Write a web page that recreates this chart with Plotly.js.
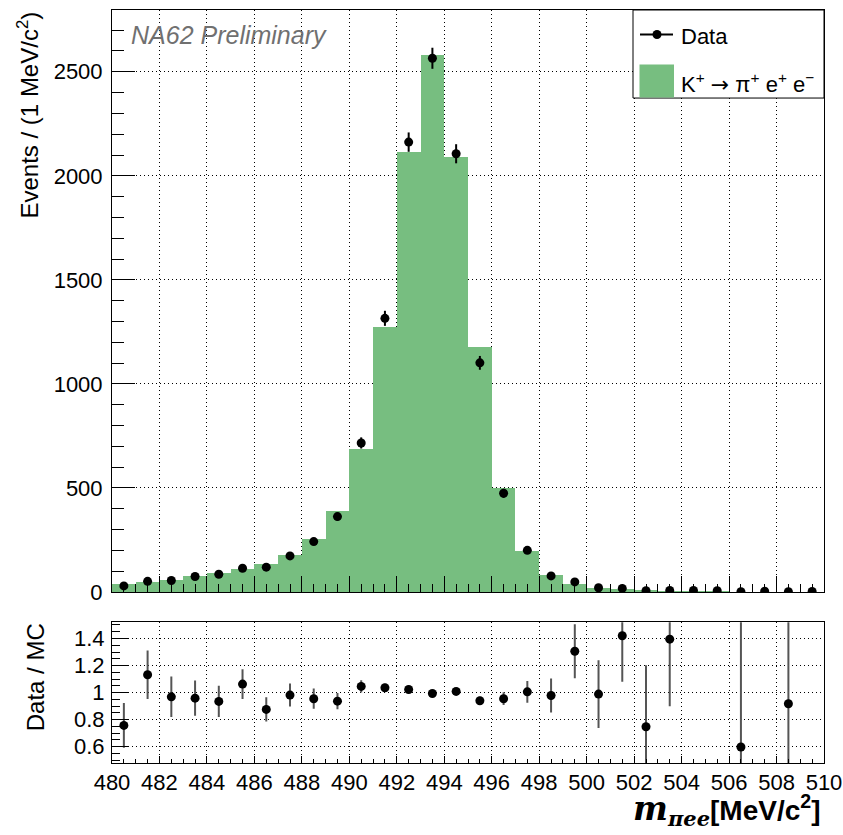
<!DOCTYPE html>
<html>
<head>
<meta charset="utf-8">
<script src="https://cdn.plot.ly/plotly-3.0.1.min.js"></script>
<style>
  html, body { margin: 0; padding: 0; background: #fff; }
  #chart { width: 843px; height: 835px; }
</style>
</head>
<body>
<div id="chart"></div>
<script>
// ---- data ----
const binCenters = [480.5, 481.5, 482.5, 483.5, 484.5, 485.5, 486.5, 487.5, 488.5, 489.5,
                    490.5, 491.5, 492.5, 493.5, 494.5, 495.5, 496.5, 497.5, 498.5, 499.5,
                    500.5, 501.5, 502.5, 503.5, 504.5, 505.5, 506.5, 507.5, 508.5, 509.5];
const mcCounts = [40, 47, 58, 77, 91, 108, 136, 177, 254, 388,
                  685, 1274, 2115, 2580, 2090, 1178, 499, 199, 79, 38,
                  20, 12, 8, 5, 4, 3, 1.7, 1.3, 1.1, 0.8];
const dataCounts = [29, 51, 55, 74, 85, 114, 119, 173, 242, 362,
                    716, 1315, 2162, 2565, 2106, 1101, 474, 200, 77, 48,
                    20, 17, 6, 7, 7, 6, 1, 3, 1, 2];
const dataErrors = [5.4, 7.1, 7.4, 8.6, 9.2, 10.7, 10.9, 13.2, 15.6, 19.0,
                    26.8, 36.2, 46.5, 50.6, 45.9, 33.2, 21.8, 14.1, 8.8, 6.9,
                    4.5, 4.1, 2.4, 2.6, 2.6, 2.4, 1.0, 1.7, 1.0, 1.4];
const ratioValues = [0.758, 1.132, 0.969, 0.959, 0.935, 1.063, 0.876, 0.982, 0.955, 0.937,
                     1.046, 1.036, 1.023, 0.994, 1.009, 0.940, 0.955, 1.006, 0.979, 1.306,
                     0.989, 1.420, 0.748, 1.395, null, null, 0.598, null, 0.918, null];
const ratioErrors = [0.165, 0.18, 0.15, 0.13, 0.115, 0.11, 0.09, 0.085, 0.075, 0.06,
                     0.045, 0.03, 0.025, 0.02, 0.025, 0.03, 0.047, 0.08, 0.125, 0.2,
                     0.25, 0.34, 0.455, 0.495, null, null, 1.0, null, 0.75, null];
const legendLabels = ["Data",
  'K<sup>+</sup> <span style="font-family:\'DejaVu Sans\'">\u2192</span> \u03c0<sup>+</sup> e<sup>+</sup> e<sup>\u2212</sup>'];

// ---- styles ----
const GREEN = "rgb(119,190,128)";
const FONT = "Liberation Sans, Arial, Helvetica, sans-serif";

const traces = [
  {
    type: "bar", x: binCenters, y: mcCounts, width: 1,
    marker: { color: GREEN, line: { width: 0 } },
    xaxis: "x", yaxis: "y", showlegend: false, hoverinfo: "skip"
  },
  {
    type: "scatter", mode: "markers", x: binCenters, y: dataCounts,
    marker: { color: "black", size: 9 },
    error_y: { type: "data", array: dataErrors, visible: true, color: "black", thickness: 2, width: 0 },
    xaxis: "x", yaxis: "y", showlegend: false
  },
  {
    type: "scatter", mode: "markers", x: binCenters, y: ratioValues,
    marker: { color: "black", size: 9 },
    error_y: { type: "data", array: ratioErrors, visible: true, color: "#555555", thickness: 2, width: 0 },
    xaxis: "x2", yaxis: "y2", showlegend: false
  }
];

const gridCommon = { showgrid: true, gridcolor: "black", gridwidth: 1, griddash: "1px,3px" };
const lineCommon = { showline: true, linecolor: "black", linewidth: 1, mirror: true, zeroline: false };

const xpx = p => (p - 112) / 712;          // pixel -> paper x (legend decoration only)
const ypx = p => (762.7 - p) / 752.7;      // pixel -> paper y

const layout = {
  width: 843, height: 835,
  margin: { l: 112, r: 19, t: 10, b: 72, pad: 0 },
  paper_bgcolor: "white", plot_bgcolor: "white",
  font: { family: FONT, color: "black", size: 22 },
  bargap: 0, showlegend: false,
  xaxis: Object.assign({
    domain: [0, 1], anchor: "y", range: [480, 510],
    tick0: 480, dtick: 2, ticks: "inside", ticklen: 16, tickwidth: 1, tickcolor: "black",
    showticklabels: false,
    minor: { ticks: "inside", ticklen: 8, tick0: 480, dtick: 0.5, tickcolor: "black", showgrid: false }
  }, gridCommon, lineCommon),
  yaxis: Object.assign({
    domain: [0.2272, 1], anchor: "x", range: [0, 2797],
    tick0: 0, dtick: 500, ticks: "inside", ticklen: 23, tickwidth: 1, tickcolor: "black",
    tickfont: { size: 22 }, ticklabelstandoff: 4,
    minor: { ticks: "inside", ticklen: 12, tick0: 0, dtick: 100, tickcolor: "black", showgrid: false }
  }, gridCommon, lineCommon),
  xaxis2: Object.assign({
    domain: [0, 1], anchor: "y2", range: [480, 510],
    tick0: 480, dtick: 2, ticks: "inside", ticklen: 7, tickwidth: 1, tickcolor: "black",
    tickfont: { size: 22 },
    minor: { ticks: "inside", ticklen: 4, tick0: 480, dtick: 0.5, tickcolor: "black", showgrid: false }
  }, gridCommon, lineCommon),
  yaxis2: Object.assign({
    domain: [0, 0.1869], anchor: "x2", range: [0.48, 1.52],
    tick0: 0.6, dtick: 0.2, ticks: "inside", ticklen: 17, tickwidth: 1, tickcolor: "black",
    tickfont: { size: 22 }, ticklabelstandoff: 2,
    minor: { ticks: "inside", ticklen: 8, tick0: 0, dtick: 0.05, tickcolor: "black", showgrid: false }
  }, gridCommon, lineCommon),
  shapes: [
    // legend box
    { type: "rect", xref: "paper", yref: "paper", x0: xpx(633), x1: 1, y0: ypx(98), y1: 1,
      fillcolor: "white", line: { color: "black", width: 1 }, layer: "above" },
    // Data legend line
    { type: "line", xref: "paper", yref: "paper", x0: xpx(640), x1: xpx(673), y0: ypx(34.5), y1: ypx(34.5),
      line: { color: "black", width: 2 }, layer: "above" },
    // Data legend dot
    { type: "circle", xref: "paper", yref: "paper", xsizemode: "pixel", ysizemode: "pixel",
      xanchor: xpx(657), yanchor: ypx(34.5), x0: -4.5, x1: 4.5, y0: -4.5, y1: 4.5,
      fillcolor: "black", line: { color: "black", width: 0 }, layer: "above" },
    // MC legend box
    { type: "rect", xref: "paper", yref: "paper", x0: xpx(639.5), x1: xpx(674), y0: ypx(97.5), y1: ypx(64.5),
      fillcolor: GREEN, line: { width: 0 }, layer: "above" }
  ],
  annotations: [
    { text: "<i>NA62 Preliminary</i>", xref: "paper", yref: "paper", x: xpx(129), y: ypx(35),
      xanchor: "left", yanchor: "middle", showarrow: false,
      font: { family: FONT, size: 25, color: "rgb(112,112,112)" } },
    { text: "Events / (1 MeV/c<sup>2</sup>)", xref: "paper", yref: "paper", x: xpx(27), y: 1,
      xanchor: "center", yanchor: "top", textangle: -90, showarrow: false,
      font: { family: FONT, size: 24, color: "black" } },
    { text: "Data / MC", xref: "paper", yref: "paper", x: xpx(35), y: ypx(621),
      xanchor: "center", yanchor: "top", textangle: -90, showarrow: false,
      font: { family: FONT, size: 24, color: "black" } },
    { text: legendLabels[0], xref: "paper", yref: "paper", x: xpx(679), y: ypx(36),
      xanchor: "left", yanchor: "middle", showarrow: false,
      font: { family: FONT, size: 22, color: "black" } },
    { text: legendLabels[1], xref: "paper", yref: "paper", x: xpx(679), y: ypx(83),
      xanchor: "left", yanchor: "middle", showarrow: false,
      font: { family: FONT, size: 22, color: "black" } },
    { text: '<b><span style="font-family:\'DejaVu Serif\';font-style:italic;font-size:33px">m</span><sub><span style="font-family:\'DejaVu Serif\';font-style:italic;font-size:21px">\u03c0ee</span></sub>[MeV/c<sup>2</sup>]</b>',
      xref: "paper", yref: "paper", x: xpx(823), y: ypx(810),
      xanchor: "right", yanchor: "middle", showarrow: false,
      font: { family: FONT, size: 28, color: "black" } }
  ]
};

Plotly.newPlot("chart", traces, layout, { staticPlot: true, displayModeBar: false });
</script>
</body>
</html>
